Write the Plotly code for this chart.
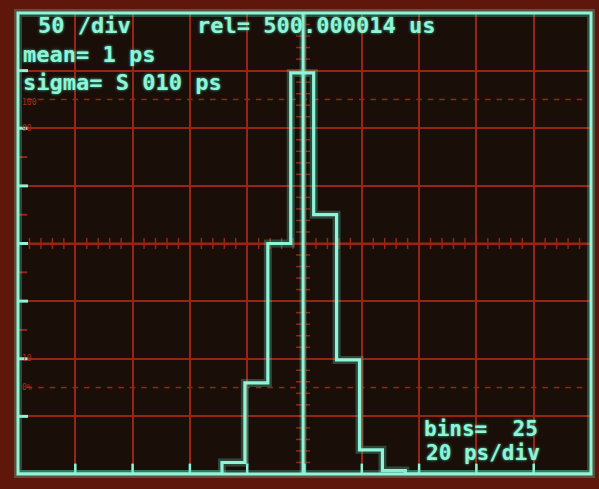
import plotly.graph_objects as go

W, H = 599, 489
# screen frame (pixels) used to place the plotting area
FX0, FX1, FY0, FY1 = 18, 591, 13, 474

# ---- data ----
x_range = [-100, 100]          # ps, 20 ps/div
y_range = [0, 400]             # counts, 50 /div
bin_start = -28.8              # ps, left edge of first non-empty bin
bin_width = 8                  # ps
counts = [10, 79, 200, 348, 225, 99, 21, 3]
cursor_x = -0.5                # ps
ref_levels = [75, 325]         # 0% and 100% dotted levels
ref_label_levels = [75, 100, 300, 322]
ref_labels = ["0%", "10", "90", "100"]

# text, left pixel, baseline pixel, font size
readouts = [
    ("50 /div", 37, 33, 22),
    ("rel= 500.000014 us", 196, 33, 22),
    ("mean= 1 ps", 22, 62, 22),
    ("sigma= S 010 ps", 22, 90, 22),
    ("bins=  25", 423, 436, 21),
    ("20 ps/div", 425, 460, 21),
]

GREEN = "#8ff4d8"
GLOW = "rgba(90,230,190,0.28)"
RED = "#982511"
BEZEL = "#5f170b"
SCREEN = "#1a0e09"

# ---- histogram step trace ----
edges = [bin_start + k * bin_width for k in range(len(counts) + 1)]
xs = [x_range[0]] + edges + [x_range[1]]
ys = [0] + counts + [0, 0]

fig = go.Figure()

# dotted reference levels
dot_x = [x_range[0] + 4 * k for k in range(1, 50)]
for lv in ref_levels:
    fig.add_trace(go.Scatter(
        x=dot_x, y=[lv] * len(dot_x), mode="markers",
        marker=dict(symbol="line-ew", size=4, line=dict(width=1.5, color=RED)),
        hoverinfo="skip", showlegend=False))

# minor ticks on the center horizontal axis
fig.add_trace(go.Scatter(
    x=dot_x, y=[200] * len(dot_x), mode="markers",
    marker=dict(symbol="line-ns", size=8, line=dict(width=1.5, color=RED)),
    hoverinfo="skip", showlegend=False))
fig.add_trace(go.Scatter(
    x=x_range, y=[200, 200], mode="lines", line=dict(color=RED, width=2),
    hoverinfo="skip", showlegend=False))

# minor ticks on the center vertical axis (cursor)
vt = [10 * k for k in range(1, 40)]
fig.add_trace(go.Scatter(
    x=[cursor_x] * len(vt), y=vt, mode="markers",
    marker=dict(symbol="line-ew", size=10, line=dict(width=1.5, color=RED)),
    hoverinfo="skip", showlegend=False))

# left frame ticks (green at divisions, red at half divisions)
lx, ly = [], []
for v in range(50, 400, 50):
    lx += [x_range[0], x_range[0] + 3.5, None]
    ly += [v, v, None]
rx, ry = [], []
for v in range(125, 300, 50):
    rx += [x_range[0], x_range[0] + 3.2, None]
    ry += [v, v, None]
fig.add_trace(go.Scatter(x=rx, y=ry, mode="lines", line=dict(color=RED, width=2),
                         hoverinfo="skip", showlegend=False))
fig.add_trace(go.Scatter(x=lx, y=ly, mode="lines", line=dict(color=GREEN, width=3),
                         hoverinfo="skip", showlegend=False, cliponaxis=False))

# bottom frame ticks
bx, by = [], []
for v in range(-80, 100, 20):
    bx += [v, v, None]
    by += [0, 9, None]
fig.add_trace(go.Scatter(x=bx, y=by, mode="lines", line=dict(color=GREEN, width=2.5),
                         hoverinfo="skip", showlegend=False, cliponaxis=False))

# cursor line
fig.add_trace(go.Scatter(x=[cursor_x, cursor_x], y=y_range, mode="lines",
                         line=dict(color=GLOW, width=7), hoverinfo="skip",
                         showlegend=False, cliponaxis=False))
fig.add_trace(go.Scatter(x=[cursor_x, cursor_x], y=y_range, mode="lines",
                         line=dict(color=GREEN, width=3), hoverinfo="skip",
                         showlegend=False, cliponaxis=False))

# histogram
fig.add_trace(go.Scatter(x=xs, y=ys, mode="lines", line_shape="hv",
                         line=dict(color=GLOW, width=8), hoverinfo="skip",
                         showlegend=False, cliponaxis=False))
fig.add_trace(go.Scatter(x=xs, y=ys, mode="lines", line_shape="hv",
                         line=dict(color=GREEN, width=3.2), hoverinfo="skip",
                         showlegend=False, cliponaxis=False))

# frame
fig.add_shape(type="rect", xref="paper", yref="paper",
              x0=FX0 / W, x1=FX1 / W, y0=1 - FY1 / H, y1=1 - FY0 / H,
              line=dict(color=GLOW, width=8), layer="above")
fig.add_shape(type="rect", xref="paper", yref="paper",
              x0=FX0 / W, x1=FX1 / W, y0=1 - FY1 / H, y1=1 - FY0 / H,
              line=dict(color=GREEN, width=3), layer="above")

# red level labels
for lv, lab in zip(ref_label_levels, ref_labels):
    fig.add_annotation(x=x_range[0] + 1.2, y=lv, xref="x", yref="y", text=lab,
                       showarrow=False, xanchor="left", yanchor="middle",
                       borderpad=0,
                       font=dict(family="DejaVu Sans Mono", size=8, color="#a8301a"))

# readout texts
for txt, px, base, fs in readouts:
    fig.add_annotation(
        x=px / W, y=1 - (base - 0.35 * fs) / H,
        xref="paper", yref="paper", text=txt, showarrow=False,
        xanchor="left", yanchor="middle", borderpad=0,
        font=dict(family="DejaVu Sans Mono", size=fs, color=GREEN,
                  weight="bold", shadow="0 0 3px #40c8a0"))

fig.update_layout(
    width=W, height=H, margin=dict(l=0, r=0, t=0, b=0),
    paper_bgcolor=BEZEL, plot_bgcolor=SCREEN,
    xaxis=dict(range=x_range, domain=[FX0 / W, FX1 / W], showgrid=True,
               tick0=x_range[0], dtick=20, gridcolor=RED, gridwidth=1.5,
               zeroline=False, showticklabels=False, ticks="", fixedrange=True),
    yaxis=dict(range=y_range, domain=[1 - FY1 / H, 1 - FY0 / H], showgrid=True,
               tick0=0, dtick=50, gridcolor=RED, gridwidth=1.5,
               zeroline=False, showticklabels=False, ticks="", fixedrange=True),
)

fig.write_html("out.html", config={"displayModeBar": False},
               post_script="document.body.style.margin='0';"
                           "document.body.style.overflow='hidden';")
